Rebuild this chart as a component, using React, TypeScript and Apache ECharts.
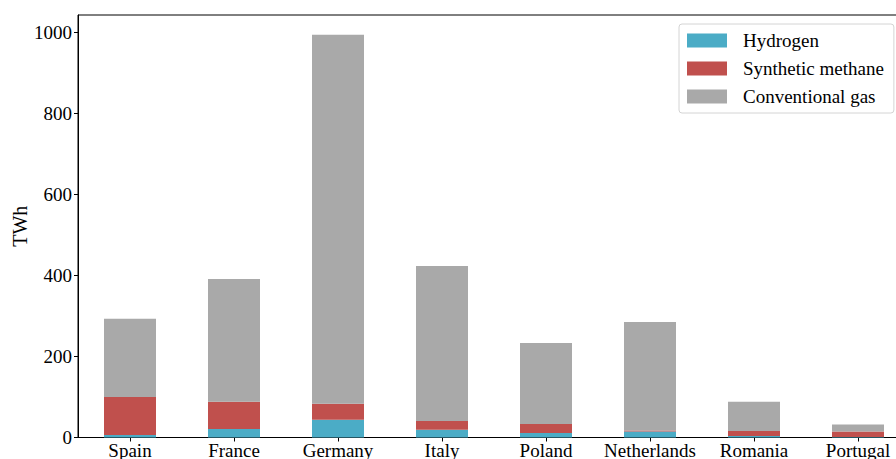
import React, { useEffect, useRef } from "react";
import * as echarts from "echarts";

const categories = ["Spain", "France", "Germany", "Italy", "Poland", "Netherlands", "Romania", "Portugal"];
const hydrogen = [6, 21, 44, 19, 11, 15, 4, 1];
const syntheticMethane = [94, 67, 39, 22, 22, 2, 12, 14];
const conventionalGas = [193, 303, 910, 382, 200, 268, 72, 17];
const yTicks = [0, 200, 400, 600, 800, 1000];
const yMax = 1042;

const FONT = "'Liberation Serif', 'Times New Roman', serif";

export default function App() {
  const ref = useRef<HTMLDivElement>(null);
  useEffect(() => {
    if (!ref.current) return;
    const chart = echarts.init(ref.current, undefined, { renderer: "svg" });
    chart.setOption({
      animation: false,
      backgroundColor: "#ffffff",
      textStyle: { fontFamily: FONT },
      grid: {
        left: 78,
        top: 15,
        right: 0,
        bottom: 21.5,
        show: true,
        borderColor: "#000000",
        borderWidth: 1,
        containLabel: false,
        outerBoundsMode: "none",
      },
      legend: {
        orient: "vertical",
        left: 679,
        top: 24,
        data: ["Hydrogen", "Synthetic methane", "Conventional gas"],
        itemWidth: 40,
        itemHeight: 14,
        itemGap: 9,
        padding: [7, 10, 7, 8],
        borderColor: "#d4d4d4",
        borderWidth: 1,
        borderRadius: 3,
        backgroundColor: "#ffffff",
        icon: "rect",
        textStyle: {
          fontFamily: FONT,
          fontSize: 19,
          lineHeight: 19,
          color: "#000000",
          padding: [0, 0, 0, 11],
        },
      },
      xAxis: {
        type: "category",
        data: categories,
        axisLine: { lineStyle: { color: "#000000", width: 1.2 } },
        axisTick: { show: true, alignWithLabel: true, interval: 0, length: 4, lineStyle: { color: "#000000" } },
        axisLabel: { fontFamily: FONT, fontSize: 19, color: "#000000", margin: 3, interval: 0 },
        splitLine: { show: false },
      },
      yAxis: {
        type: "value",
        min: 0,
        max: yMax,
        interval: 200,
        name: "TWh",
        nameLocation: "middle",
        nameGap: 48,
        nameMoveOverlap: false,
        nameTextStyle: { fontFamily: FONT, fontSize: 20, color: "#000000" },
        axisLine: { show: true, lineStyle: { color: "#000000", width: 1 } },
        axisTick: { show: true, length: 4, lineStyle: { color: "#000000" } },
        axisLabel: {
          fontFamily: FONT,
          fontSize: 19,
          color: "#000000",
          margin: 6,
          showMaxLabel: false,
          formatter: (v: number) => (yTicks.includes(v) ? String(v) : ""),
        },
        splitLine: { show: false },
      },
      series: [
        {
          name: "Hydrogen",
          type: "bar",
          stack: "total",
          data: hydrogen,
          barWidth: "50%",
          itemStyle: { color: "#4bacc6" },
        },
        {
          name: "Synthetic methane",
          type: "bar",
          stack: "total",
          data: syntheticMethane,
          barWidth: "50%",
          itemStyle: { color: "#c0504d" },
        },
        {
          name: "Conventional gas",
          type: "bar",
          stack: "total",
          data: conventionalGas,
          barWidth: "50%",
          itemStyle: { color: "#a9a9a9" },
        },
      ],
    });
    return () => chart.dispose();
  }, []);
  return (
    <div style={{ position: "fixed", left: 0, top: 0, width: 896, height: 459, overflow: "hidden", background: "#fff" }}>
      <div ref={ref} style={{ width: 910, height: 459 }} />
    </div>
  );
}
